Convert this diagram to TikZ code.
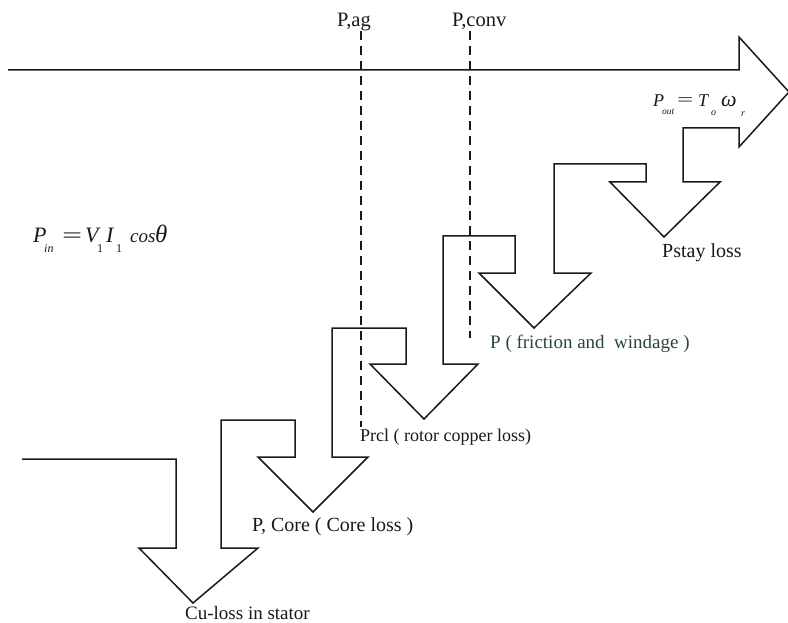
\documentclass[tikz,border=0pt]{standalone}
\usepackage{fontspec}
\usepackage{graphicx}
\setmainfont{Liberation Serif}
\definecolor{inkline}{RGB}{25,25,25}
\definecolor{greenink}{RGB}{40,72,55}
\newcommand{\lblsize}[1]{\fontsize{#1}{#1}\selectfont}
\begin{document}
\begin{tikzpicture}[x=1pt,y=-1pt,
  flow/.style={draw=inkline,line width=1.5pt,line join=miter},
  tap/.style={draw=inkline,line width=1.3pt,dash pattern=on 9pt off 6pt},
  lossname/.style={anchor=base west,inner sep=0pt,text=inkline,font=\lblsize{19}},
  sym/.style={anchor=base west,inner sep=0pt,text=inkline}]
\useasboundingbox (0,0) rectangle (788,623);

% lower edge of the power flow: a staircase of downward loss arrows
\coordinate (inlow) at (22,459);
\coordinate (intop) at (8,70);
\coordinate (cutip) at (193,603);
\coordinate (coretip) at (313,512);
\coordinate (rcltip) at (424,419);
\coordinate (fwtip) at (534,328);
\coordinate (straytip) at (664,237);
\coordinate (outtip) at (789,92);
\draw[flow] (inlow) -- (176,459) -- (176,548) -- (139,548) -- (cutip)
  -- (258,548) -- (221,548) -- (221,420) -- (295,420) -- (295,457) -- (258,457) -- (coretip)
  -- (368,457) -- (332,457) -- (332,328) -- (406,328) -- (406,364) -- (370,364) -- (rcltip)
  -- (478,364) -- (443,364) -- (443,236) -- (515,236) -- (515,273) -- (479,273) -- (fwtip)
  -- (591,273) -- (554,273) -- (554,164) -- (646,164) -- (646,182) -- (610,182) -- (straytip)
  -- (720,182) -- (683,182) -- (683,128) -- (739,128) -- (739,147) -- (outtip)
  -- (739,37) -- (739,70) -- (intop);

% air-gap and converted power taps
\node[lossname,font=\lblsize{20.5}] (pag) at (337,27) {P,ag};
\node[lossname,font=\lblsize{20.5}] (pconv) at (452,27) {P,conv};
\coordinate (agtop) at (361,31);
\coordinate (agend) at (361,427);
\coordinate (convtop) at (470,31);
\coordinate (convend) at (470,338);
\draw[tap] (agtop) -- (agend);
\draw[tap] (convtop) -- (convend);

% loss labels
\node[lossname,font=\lblsize{19}] (lcu) at (185,619) {Cu-loss in stator};
\node[lossname,font=\lblsize{20}] (lcore) at (252,531) {P, Core ( Core loss )};
\node[lossname,font=\lblsize{18}] (lrcl) at (360,441) {Prcl ( rotor copper loss)};
\node[lossname,text=greenink] (lfw) at (490,348) {P ( friction and\ \ windage )};
\node[lossname,font=\lblsize{20}] (lstray) at (662,258) {Pstay loss};

% input power
\node[sym,font=\lblsize{22}\itshape] (pinP) at (33,243) {P};
\node[sym,font=\lblsize{12}\itshape] (pinS) at (44,253) {in};
\node[sym,font=\lblsize{21}] (pinEq) at (62,243) {\scalebox{1.7}[1]{=}};
\node[sym,font=\lblsize{22}\itshape] (pinV) at (85,243) {V};
\node[sym,font=\lblsize{12}] (pinV1) at (97,252) {1};
\node[sym,font=\lblsize{22}\itshape] (pinI) at (106,243) {I};
\node[sym,font=\lblsize{12}] (pinI1) at (116,252) {1};
\node[sym,font=\lblsize{19}\itshape] (pincos) at (130,243) {cos};
\node[sym,font=\lblsize{25}\itshape] (pinth) at (155,243) {θ};

% output power
\node[sym,font=\lblsize{18}\itshape] (poP) at (653,107) {P};
\node[sym,font=\lblsize{9.5}\itshape] (poS) at (662,115) {out};
\node[sym,font=\lblsize{17}] (poEq) at (677,106) {\scalebox{1.7}[1]{=}};
\node[sym,font=\lblsize{18}\itshape] (poT) at (698,107) {T};
\node[sym,font=\lblsize{10}\itshape] (poTs) at (711,116) {o};
\node[sym,font=\lblsize{22}\itshape] (pow) at (721,107) {ω};
\node[sym,font=\lblsize{10}\itshape] (pows) at (741,117) {r};
\end{tikzpicture}
\end{document}
